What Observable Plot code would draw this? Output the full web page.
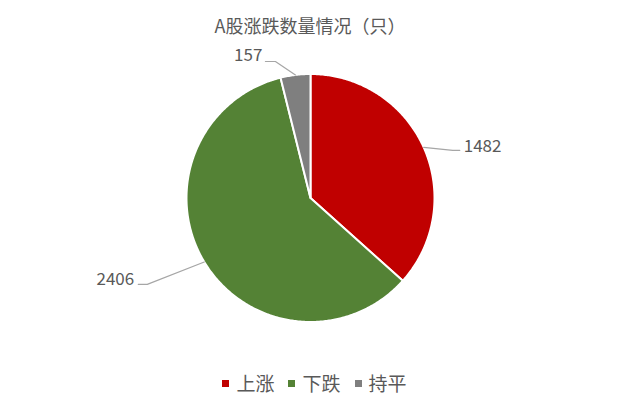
<!DOCTYPE html>
<html>
<head>
<meta charset="utf-8">
<script src="https://cdn.jsdelivr.net/npm/d3@7"></script>
<script src="https://cdn.jsdelivr.net/npm/@observablehq/plot@0.6"></script>
<style>
  html, body { margin: 0; padding: 0; background: #fff; }
  body { width: 617px; height: 402px; overflow: hidden; font-family: "Noto Sans CJK SC", "Noto Sans", sans-serif; color: #595959; }
  #title { height: 50px; line-height: 50px; font-size: 18px; text-align: center; padding-left: 3px; }
  #legend { display: flex; justify-content: center; align-items: center; margin-top: 14px; line-height: 18px; font-size: 19px; padding-left: 12px; }
  .item { display: flex; align-items: center; margin: 0 7px; }
  .sw { width: 7px; height: 7px; margin-right: 7px; }
</style>
</head>
<body>
<div id="title">A股涨跌数量情况（只）</div>
<div id="chart"></div>
<div id="legend"></div>
<script>
const categories = ["上涨", "下跌", "持平"];
const counts = [1482, 2406, 157];
const colors = ["#C00000", "#548235", "#7F7F7F"];

// layout (pixels)
const R = 124;
const labelLayout = [
  {elbow: [29, 3], end: [7, 0], dx: 4, dy: -4, anchor: "start"},
  {elbow: [-57, 22.4], end: [-9, 0], dx: -4, dy: -5, anchor: "end"},
  {elbow: [-20, -13.4], end: [-10, 0], dx: -3, dy: -6, anchor: "end"}
];

const arcs = d3.pie().sort(null)(counts);
const slices = [];
arcs.forEach((a, i) => {
  const name = categories[i];
  slices.push({name, x: 0, y: 0});
  const n = Math.max(2, Math.ceil((a.endAngle - a.startAngle) / 0.01));
  for (let k = 0; k <= n; k++) {
    const t = a.startAngle + (a.endAngle - a.startAngle) * k / n;
    slices.push({name, x: Math.sin(t), y: Math.cos(t)});
  }
  slices.push({name, x: 0, y: 0});
});

const leaders = [];
const labels = [];
arcs.forEach((a, i) => {
  const m = (a.startAngle + a.endAngle) / 2;
  const L = labelLayout[i];
  const ex = Math.sin(m), ey = Math.cos(m);
  const bx = ex + L.elbow[0] / R, by = ey - L.elbow[1] / R;
  const cx = bx + L.end[0] / R, cy = by - L.end[1] / R;
  leaders.push({id: i, x: ex, y: ey}, {id: i, x: bx, y: by}, {id: i, x: cx, y: cy});
  labels.push({x: cx, y: cy, text: String(counts[i]), dx: L.dx, dy: L.dy, anchor: L.anchor});
});

const plot = Plot.plot({
  width: 617,
  height: 310,
  marginLeft: 186,
  marginRight: 183,
  marginTop: 23.5,
  marginBottom: 38.5,
  x: {domain: [-1, 1], axis: null},
  y: {domain: [-1, 1], axis: null},
  color: {domain: categories, range: colors},
  style: {fontFamily: "'Noto Sans CJK SC', 'Noto Sans', sans-serif", overflow: "visible"},
  marks: [
    Plot.line(slices, {x: "x", y: "y", z: "name", fill: "name", stroke: "white", strokeWidth: 2, strokeLinejoin: "round"}),
    Plot.line(leaders, {x: "x", y: "y", z: "id", stroke: "#A6A6A6", strokeWidth: 1.2}),
    ...labels.map(l => Plot.text([l], {x: "x", y: "y", text: "text", dx: l.dx, dy: l.dy, textAnchor: l.anchor, fontSize: 17, fill: "#595959"}))
  ]
});
document.getElementById("chart").appendChild(plot);

const legend = document.getElementById("legend");
categories.forEach((c, i) => {
  const it = document.createElement("div");
  it.className = "item";
  const sw = document.createElement("span");
  sw.className = "sw";
  sw.style.background = colors[i];
  const tx = document.createElement("span");
  tx.textContent = c;
  it.appendChild(sw);
  it.appendChild(tx);
  legend.appendChild(it);
});
</script>
</body>
</html>
